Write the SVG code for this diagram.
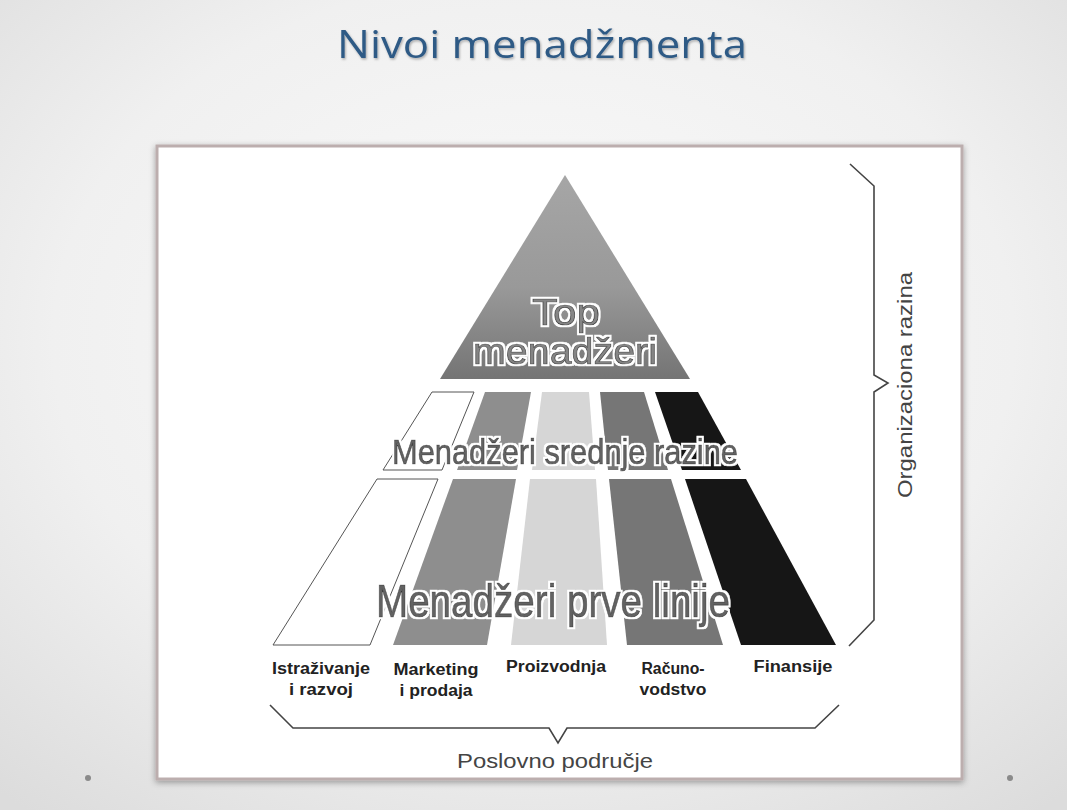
<svg xmlns="http://www.w3.org/2000/svg" width="1067" height="810" viewBox="0 0 1067 810">
<defs>
<radialGradient id="bg" cx="50%" cy="42%" r="75%">
<stop offset="0" stop-color="#fbfbfb"/>
<stop offset="0.6" stop-color="#f0f0f0"/>
<stop offset="1" stop-color="#dcdcdc"/>
</radialGradient>
<linearGradient id="tri" x1="0" y1="0" x2="0" y2="1">
<stop offset="0" stop-color="#a6a6a6"/>
<stop offset="0.55" stop-color="#999999"/>
<stop offset="1" stop-color="#747474"/>
</linearGradient>
<filter id="sh" x="-5%" y="-5%" width="110%" height="110%">
<feDropShadow dx="0" dy="2" stdDeviation="3" flood-color="#000" flood-opacity="0.35"/>
</filter>
<filter id="tsh" x="-5%" y="-20%" width="110%" height="140%">
<feDropShadow dx="1" dy="1.5" stdDeviation="1" flood-color="#000" flood-opacity="0.3"/>
</filter>
<filter id="halo" x="-10%" y="-30%" width="120%" height="160%">
<feMorphology in="SourceAlpha" operator="dilate" radius="2" result="d"/>
<feFlood flood-color="#ffffff" result="w"/>
<feComposite in="w" in2="d" operator="in" result="h"/>
<feMerge><feMergeNode in="h"/><feMergeNode in="SourceGraphic"/></feMerge>
</filter>
</defs>
<style>
.title{font-family:"Open Sans","Liberation Sans",sans-serif;font-size:38px;fill:#2f5a85}
.big{font-family:"Liberation Sans Narrow","Liberation Sans",sans-serif;text-anchor:middle;fill:#626262;stroke:#333333;stroke-width:0.7;filter:url(#halo)}
.topt{fill:#858585}
.lab{font-family:"Liberation Sans",sans-serif;font-weight:bold;font-size:16px;fill:#222;text-anchor:middle}
.cap{font-family:"Liberation Sans",sans-serif;font-size:21px;fill:#444;text-anchor:middle}
.brace{fill:none;stroke:#444;stroke-width:1.6;stroke-linejoin:miter}
.w{fill:#ffffff;stroke:#555;stroke-width:1}
.g1{fill:#8e8e8e}
.g2{fill:#d6d6d6}
.g3{fill:#767676}
.g4{fill:#161616}
</style>
<rect x="0" y="0" width="1067" height="810" fill="url(#bg)"/>
<g id="title">
<text class="title" x="542" y="58" text-anchor="middle" textLength="410" lengthAdjust="spacingAndGlyphs" filter="url(#tsh)">Nivoi menadžmenta</text>
</g>
<g id="frame">
<rect x="157" y="146" width="805" height="633" fill="#ffffff" stroke="#bcaeae" stroke-width="3" filter="url(#sh)"/>
</g>
<g id="dots">
<circle cx="88" cy="778" r="3" fill="#8a8a8a"/>
<circle cx="1010" cy="778" r="3" fill="#8a8a8a"/>
</g>
<g id="top-managers">
<polygon points="565,175 690,379 440,379" fill="url(#tri)"/>
<text class="big topt" font-size="37" x="566" y="325" textLength="68" lengthAdjust="spacingAndGlyphs">Top</text>
<text class="big topt" font-size="37" x="565" y="364" textLength="184" lengthAdjust="spacingAndGlyphs">menadžeri</text>
</g>
<g id="middle-managers">
<polygon class="w" points="432,392 474,392 442,470 383,470"/>
<polygon class="g1" points="485,392 531,392 517,470 457,470"/>
<polygon class="g2" points="542,392 589,392 595,470 532,470"/>
<polygon class="g3" points="600,392 644,392 668,470 608,470"/>
<polygon class="g4" points="655,392 698,392 741,470 682,470"/>
<text class="big" font-size="35" x="565" y="464" textLength="346" lengthAdjust="spacingAndGlyphs">Menadžeri srednje razine</text>
</g>
<g id="first-line-managers">
<polygon class="w" points="377,479 438,479 370,645 273,645"/>
<polygon class="g1" points="453,479 516,479 487,645 393,645"/>
<polygon class="g2" points="530,479 596,479 607,645 511,645"/>
<polygon class="g3" points="609,479 671,479 723,645 627,645"/>
<polygon class="g4" points="685,479 746,479 836,645 741,645"/>
<text class="big" font-size="46" x="553" y="617" textLength="354" lengthAdjust="spacingAndGlyphs">Menadžeri prve linije</text>
</g>
<g id="areas">
<text class="lab" x="321" y="674" textLength="98" lengthAdjust="spacingAndGlyphs">Istraživanje</text>
<text class="lab" x="321" y="695" textLength="64" lengthAdjust="spacingAndGlyphs">i razvoj</text>
<text class="lab" x="436" y="675" textLength="85" lengthAdjust="spacingAndGlyphs">Marketing</text>
<text class="lab" x="436" y="696" textLength="73" lengthAdjust="spacingAndGlyphs">i prodaja</text>
<text class="lab" x="556" y="672" textLength="100" lengthAdjust="spacingAndGlyphs">Proizvodnja</text>
<text class="lab" x="673" y="674" textLength="63" lengthAdjust="spacingAndGlyphs">Računo-</text>
<text class="lab" x="673" y="695" textLength="67" lengthAdjust="spacingAndGlyphs">vodstvo</text>
<text class="lab" x="793" y="672" textLength="79" lengthAdjust="spacingAndGlyphs">Finansije</text>
</g>
<g id="connectors">
<path class="brace" d="M270,705 L293,728 L549,728 L558,743 L567,728 L815,728 L839,705"/>
<path class="brace" d="M850,164 L874,186 L874,375 L888,383 L874,392 L874,620 L849,646"/>
</g>
<g id="labels">
<text class="cap" x="555" y="768" font-size="22" textLength="196" lengthAdjust="spacingAndGlyphs">Poslovno područje</text>
<text class="cap" transform="translate(912,385) rotate(-90)" textLength="226" lengthAdjust="spacingAndGlyphs">Organizaciona razina</text>
</g>
</svg>
